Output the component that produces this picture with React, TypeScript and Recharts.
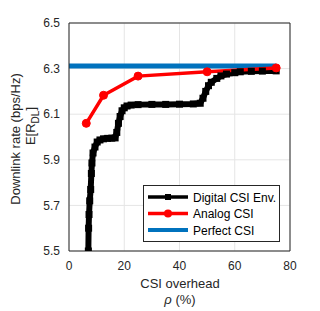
import { CartesianGrid, Line, LineChart, XAxis, YAxis } from 'recharts';

const FONT = '"Liberation Sans", Arial, sans-serif';

// Digital CSI Env. (x = CSI overhead %, y = rate)
const digitalX = [7.0, 7.1, 7.25, 7.5, 7.85, 8.1, 8.3, 8.7, 9.4, 10.2, 11.2, 12.5, 14, 15.5, 16.7, 17.3, 17.9, 18.5, 19.2, 20, 21, 22.5, 25, 30, 35, 40, 45, 47.5, 48.5, 49.5, 50.5, 51.5, 53.5, 55, 57, 60, 62, 66, 70, 75];
const digitalY = [5.5, 5.6, 5.66, 5.72, 5.77, 5.84, 5.886, 5.93, 5.956, 5.978, 5.987, 5.992, 5.994, 5.995, 5.996, 6.02, 6.06, 6.09, 6.115, 6.128, 6.136, 6.14, 6.142, 6.143, 6.143, 6.144, 6.145, 6.148, 6.17, 6.2, 6.225, 6.24, 6.257, 6.268, 6.276, 6.282, 6.286, 6.288, 6.289, 6.29];

const analogX = [6.25, 12.5, 25, 50, 75];
const analogY = [6.06, 6.183, 6.267, 6.286, 6.303];

const perfectX = [0, 75];
const perfectY = [6.311, 6.311];

const xTicks = [0, 20, 40, 60, 80];
const yTicks = [5.5, 5.7, 5.9, 6.1, 6.3, 6.5];

const toRows = (xs: number[], ys: number[]) => xs.map((x, i) => ({ x, y: ys[i] }));

const digital = toRows(digitalX, digitalY);
const analog = toRows(analogX, analogY);
const perfect = toRows(perfectX, perfectY);

const SquareDot = (props: any) => {
	const { cx, cy } = props;
	if (cx == null || cy == null) return null;
	return <rect x={cx - 3.5} y={cy - 3.5} width={7} height={7} fill='#000' />;
};

const YLabel = () => (
	<g fontFamily={FONT} fill='#262626'>
		<text transform='translate(20,139) rotate(-90)' textAnchor='middle' fontSize={13}>
			Downlink rate (bps/Hz)
		</text>
		<text transform='translate(35,126) rotate(-90)' textAnchor='middle' fontSize={13}>
			E[R<tspan fontSize={10} dy={4}>DL</tspan>
			<tspan dy={-4}>]</tspan>
		</text>
	</g>
);

const XLabel = () => (
	<g fontFamily={FONT} fill='#262626' textAnchor='middle'>
		<text x={180} y={288} fontSize={13}>
			CSI overhead
		</text>
		<text x={180} y={304} fontSize={13}>
			<tspan fontStyle='italic'>ρ</tspan> (%)
		</text>
	</g>
);

const legendItems = [
	{ name: 'Digital CSI Env.', color: '#000000', marker: 'square' },
	{ name: 'Analog CSI', color: '#ff0000', marker: 'circle' },
	{ name: 'Perfect CSI', color: '#0072bd', marker: 'none' },
];

const ChartLegend = () => (
	<svg style={{ position: 'absolute', left: 143, top: 185, overflow: 'visible' }} width={137} height={57}>
		<rect x={0.5} y={0.5} width={136} height={56} fill='#fff' stroke='#262626' strokeWidth={1} />
		{legendItems.map((it, i) => {
			const y = 12 + i * 16.5;
			return (
				<g key={it.name}>
					<line x1={5} x2={45} y1={y} y2={y} stroke={it.color} strokeWidth={it.marker === 'none' ? 4 : 3.5} />
					{it.marker === 'square' && <rect x={22} y={y - 3} width={6} height={6} fill={it.color} />}
					{it.marker === 'circle' && <circle cx={25} cy={y} r={4} fill={it.color} />}
					<text x={50} y={y + 4.5} fontSize={12} fontFamily={FONT} fill='#000'>
						{it.name}
					</text>
				</g>
			);
		})}
	</svg>
);

export default function App() {
	return (
		<div style={{ position: 'absolute', left: 0, top: 0, width: 320, height: 311, background: '#fff' }}>
			<LineChart width={320} height={311} margin={{ top: 0, right: 0, bottom: 0, left: 0 }}>
				<CartesianGrid stroke='#e5e5e5' strokeWidth={1} />
				<XAxis
					dataKey='x'
					type='number'
					domain={[0, 80]}
					ticks={xTicks}
					height={60}
					allowDuplicatedCategory={false}
					tickLine={false}
					axisLine={{ stroke: '#262626' }}
					tick={{ fontSize: 12, fill: '#262626', fontFamily: FONT }}
					tickMargin={4}
				/>
				<XAxis xAxisId='top' orientation='top' type='number' domain={[0, 80]} height={23} tick={false} tickLine={false} axisLine={{ stroke: '#262626' }} />
				<YAxis
					type='number'
					domain={[5.5, 6.5]}
					ticks={yTicks}
					width={69}
					tickLine={false}
					axisLine={{ stroke: '#262626' }}
					tick={{ fontSize: 12, fill: '#262626', fontFamily: FONT }}
					tickFormatter={(v: number) => v.toFixed(1)}
					tickMargin={3}
					allowDataOverflow
				/>
				<YAxis yAxisId='right' orientation='right' type='number' domain={[5.5, 6.5]} width={30} tick={false} tickLine={false} axisLine={{ stroke: '#262626' }} />
				<Line data={perfect} dataKey='y' stroke='#0072bd' strokeWidth={5} dot={false} isAnimationActive={false} />
				<Line data={digital} dataKey='y' stroke='#000' strokeWidth={6} dot={<SquareDot />} isAnimationActive={false} />
				<Line data={analog} dataKey='y' stroke='#ff0000' strokeWidth={3.5} dot={{ r: 4, fill: '#ff0000', stroke: '#ff0000', strokeWidth: 1 }} isAnimationActive={false} />
			</LineChart>
			<svg style={{ position: 'absolute', left: 0, top: 0, pointerEvents: 'none' }} width={320} height={311}>
				<YLabel />
				<XLabel />
			</svg>
			<ChartLegend />
		</div>
	);
}
